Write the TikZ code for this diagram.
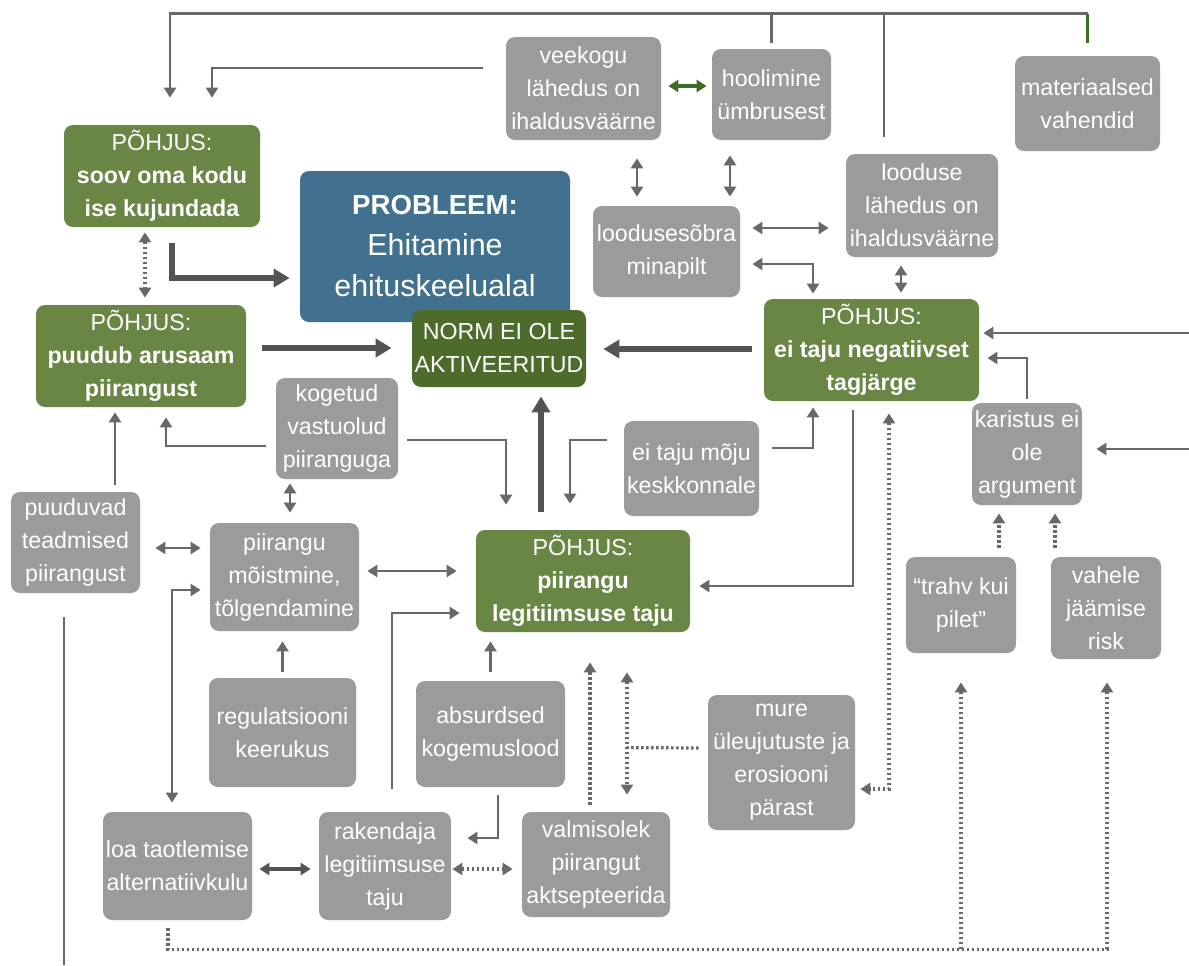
\documentclass[tikz,border=0pt]{standalone}
\usepackage{fontspec}
\setmainfont{Liberation Sans}
\usetikzlibrary{arrows.meta, calc}
\definecolor{boxgray}{HTML}{9B9B9B}
\definecolor{causegreen}{HTML}{6A8645}
\definecolor{normgreen}{HTML}{4D6B2B}
\definecolor{probblue}{HTML}{42708F}
\definecolor{linegray}{HTML}{686868}
\definecolor{darkline}{HTML}{545454}
\definecolor{arrowgreen}{HTML}{3F6B24}

\begin{document}
\begin{tikzpicture}[x=0.5pt, y=-0.5pt,
	>={Triangle[length=5pt,width=6pt]},
	box/.style={rectangle, rounded corners=4.5pt, fill=boxgray, text=white, align=center,
		inner sep=0pt, font=\fontsize{11.6}{16.5}\selectfont},
	cause/.style={box, fill=causegreen},
	normbox/.style={box, fill=normgreen},
	probbox/.style={box, fill=probblue, font=\fontsize{15.2}{20.5}\selectfont},
	sz/.style 2 args={minimum width=#1pt, minimum height=#2pt},
	wire/.style={draw=linegray, line width=1.45pt},
	conn/.style={wire, ->},
	dlink/.style={draw=darkline, line width=1.8pt},
	glink/.style={draw=arrowgreen, line width=1.7pt},
	big/.style={draw=darkline, line width=3pt, -{Triangle[length=8pt,width=9pt]}},
	dots/.style={wire, line width=1.6pt, dash pattern=on 1.2pt off 1.3pt}
	]
	\path[use as bounding box, fill=white] (0,0) rectangle (1189,965);

	\node[box, sz={77.5}{51.5}] (veek) at (583.5,88.5) {veekogu\\lähedus on\\ihaldusväärne};
	\node[box, sz={59.5}{45.5}] (hool) at (771.5,94.5) {hoolimine\\ümbrusest};
	\node[box, sz={72.5}{47.5}] (mat) at (1087.5,103.5) {materiaalsed\\vahendid};
	\node[box, sz={76}{51.5}] (lood) at (922,205.5) {looduse\\lähedus on\\ihaldusväärne};
	\node[box, sz={73.5}{45.5}] (minap) at (666.5,251.5) {loodusesõbra\\minapilt};
	\node[cause, sz={98}{51}] (soov) at (162,176) {PÕHJUS:\\\textbf{soov oma kodu}\\\textbf{ise kujundada}};
	\node[probbox, sz={135}{75.5}] (prob) at (435,246.5)
		{{\fontsize{13.8}{20.5}\selectfont\bfseries PROBLEEM:}\\Ehitamine\\ehituskeelualal};
	\node[normbox, sz={87}{38.5}] (norm) at (499,348.5) {NORM EI OLE\\AKTIVEERITUD};
	\node[cause, sz={105}{51}] (puudub) at (141,356) {PÕHJUS:\\\textbf{puudub arusaam}\\\textbf{piirangust}};
	\node[cause, sz={107.5}{51}] (eineg) at (871.5,350) {PÕHJUS:\\\textbf{ei taju negatiivset}\\\textbf{tagjärge}};
	\node[box, sz={61}{50.5}] (koget) at (337,428.5) {kogetud\\vastuolud\\piiranguga};
	\node[box, sz={67.5}{47.5}] (eimoju) at (691.5,468.5) {ei taju mõju\\keskkonnale};
	\node[box, sz={55}{51}] (karist) at (1027,454) {karistus ei\\ole\\argument};
	\node[box, sz={64.5}{50.5}] (puuduv) at (75.5,542.5) {puuduvad\\teadmised\\piirangust};
	\node[box, sz={74.5}{54}] (moist) at (284.5,577) {piirangu\\mõistmine,\\tõlgendamine};
	\node[cause, sz={107}{51}] (legit) at (583,581) {PÕHJUS:\\\textbf{piirangu}\\\textbf{legitiimsuse taju}};
	\node[box, sz={55}{48}] (trahv) at (961,605) {“trahv kui\\pilet”};
	\node[box, sz={55}{51}] (vahele) at (1106,608) {vahele\\jäämise\\risk};
	\node[box, sz={73.5}{54.5}] (regul) at (282.5,732.5) {regulatsiooni\\keerukus};
	\node[box, sz={74.5}{53}] (absurd) at (490.5,734) {absurdsed\\kogemuslood};
	\node[box, sz={73.5}{67.5}] (mure) at (781.5,762.5) {mure\\üleujutuste ja\\erosiooni\\pärast};
	\node[box, sz={74.5}{54}] (loa) at (177.5,866) {loa taotlemise\\alternatiivkulu};
	\node[box, sz={66}{54}] (rak) at (385,866) {rakendaja\\legitiimsuse\\taju};
	\node[box, sz={74}{52.5}] (valm) at (596,864.5) {valmisolek\\piirangut\\aktsepteerida};

	% top line
	\coordinate (bus) at ($(mat.north)+(0,-42)$);
	\draw[glink] ($(mat.north)+(0,-13)$) -- (bus);
	\draw[conn] (bus) -| ($(soov.north)+(8,-27)$);
	\draw[wire] ($(hool.north)+(0,-6)$) -- (hool.north |- bus);
	\draw[wire] ($(lood.north)+(-38,-17)$) -- ($(lood.north)+(-38,-140)$);
	\draw[conn] ($(veek.west)+(-23,-20.5)$) -| ($(soov.north)+(50,-27)$);

	\draw[glink, <->] ($(veek.east)+(7,-2.5)$) -- ($(hool.west)+(-5,-8.5)$);
	\draw[conn, <->] ($(veek.south)+(53.5,18)$) -- ($(minap.north)+(-29.5,-9)$);
	\draw[conn, <->] ($(hool.south)+(-41.5,15)$) -- ($(minap.north)+(63.5,-9)$);
	\draw[conn, <->] ($(minap.east)+(12,-23.5)$) -- ($(lood.west)+(-17,22.5)$);
	\draw[conn, <->] ($(minap.east)+(12,12.5)$) -| ($(eineg.north)+(-58.5,-5)$);
	\draw[conn, <->] ($(lood.south)+(-21,8)$) -- ($(eineg.north)+(29.5,-6)$);
	\draw[dots, <->] ($(soov.south)+(-17,5)$) -- ($(puudub.north)+(4,-7)$);

	% into the problem and the norm
	\draw[big] ($(soov.south)+(10,16)$) |- ($(prob.west)+(-10,31.5)$);
	\draw[big] ($(puudub.east)+(16,-8)$) -- ($(norm.west)+(-20,-0.5)$);
	\draw[big] ($(eineg.west)+(-12,-1)$) -- ($(norm.east)+(17,0.5)$);
	\draw[big] ($(legit.north)+(-42,-18)$) -- ($(norm.south)+(42,9)$);

	\draw[conn] ($(koget.west)+(-10,17.5)$) -| ($(puudub.south)+(25,10)$);
	\draw[conn] ($(koget.east)+(9,11.5)$) -| ($(legit.north)+(-77,-25)$);
	\draw[conn] ($(eimoju.west)+(-17,-28.5)$) -| ($(legit.north)+(-13,-26)$);
	\draw[conn] ($(eimoju.east)+(13,-20.5)$) -| ($(eineg.south)+(-58.5,6)$);
	\draw[conn] ($(eineg.south)+(-18.5,9)$) |- ($(legit.east)+(9,5)$);
	\draw[dots, <->] ($(eineg.south)+(17.5,12)$) |- ($(mure.east)+(5,26.5)$);

	% right side
	\coordinate (inA) at (1189,333);
	\coordinate (inB) at (1189,449);
	\draw[conn] (inA) -- ($(eineg.east)+(4,-17)$);
	\draw[conn] ($(karist.north)+(0,-4)$) |- ($(eineg.east)+(8,8)$);
	\draw[conn] (inB) -- ($(karist.east)+(14,-5)$);
	\draw[dots, ->] ($(trahv.north)+(38,-9)$) -- ($(karist.south)+(-28,8)$);
	\draw[dots, ->] ($(vahele.north)+(-51,-9)$) -- ($(karist.south)+(28,8)$);

	% left side
	\draw[conn] ($(puuduv.north)+(39.5,-7)$) -- ($(puudub.south)+(-26,5)$);
	\draw[conn, <->] ($(puuduv.east)+(15,5.5)$) -- ($(moist.west)+(-9,-29)$);
	\draw[conn, <->] ($(koget.south)+(-47,4)$) -- ($(moist.north)+(5.5,-10)$);
	\draw[conn, <->] ($(moist.east)+(8,-6)$) -- ($(legit.west)+(-19,-10)$);
	\draw[conn, <->] ($(loa.north)+(-5.5,-9)$) |- ($(moist.west)+(-9,13)$);
	\draw[conn] ($(rak.north)+(7,-23)$) |- ($(legit.west)+(-16,32)$);
	\draw[conn] ($(regul.north)+(0,-6)$) -- ($(moist.south)+(-2,10)$);
	\draw[conn] ($(absurd.north)+(0,-9)$) -- ($(legit.south)+(-92.5,9)$);
	\draw[conn] ($(absurd.south)+(7.5,8)$) |- ($(rak.east)+(16,-28)$);
	\coordinate (outL) at (64,965);
	\draw[wire] ($(puuduv.south)+(-11.5,24)$) -- (outL);

	% bottom row
	\draw[dlink, <->] ($(loa.east)+(7,3)$) -- ($(rak.west)+(-8,3)$);
	\draw[dots, <->] ($(rak.east)+(1,3)$) -- ($(valm.west)+(-9,4.5)$);
	\draw[dots, ->] ($(valm.north)+(-6,-7)$) -- ($(legit.south)+(7,30)$);
	\coordinate (mj) at ($(valm.north)+(31,-64)$);
	\draw[dots] ($(mure.west)+(-9,-14.5)$) -- (mj);
	\draw[dots, <->] ($(legit.south)+(44,40)$) -- ($(valm.north)+(31,-17)$);
	\draw[dots, ->] ($(loa.south)+(-9.5,8)$) |- ($(vahele.south)+(1,290)$) -- ($(vahele.south)+(1,23)$);
	\draw[dots, ->] ($(trahv.south)+(0,296)$) -- ($(trahv.south)+(0,29)$);
\end{tikzpicture}
\end{document}
